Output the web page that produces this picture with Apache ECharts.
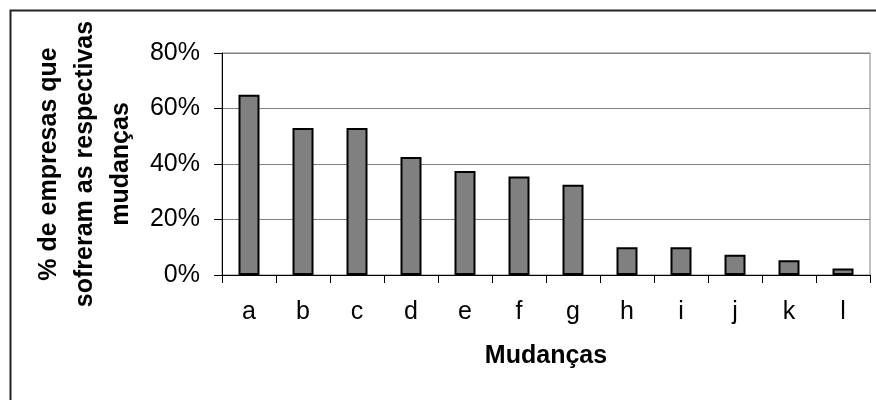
<!DOCTYPE html>
<html>
<head>
<meta charset="utf-8">
<script src="https://cdn.jsdelivr.net/npm/echarts@6/dist/echarts.min.js"></script>
<style>
  html, body { margin: 0; padding: 0; background: #fff; }
  #chart { width: 876px; height: 400px; }
</style>
</head>
<body>
<div id="chart"></div>
<script>
// categorias e valores (% de empresas)
const categorias = ['a', 'b', 'c', 'd', 'e', 'f', 'g', 'h', 'i', 'j', 'k', 'l'];
const valores = [65, 53, 53, 42.5, 37.5, 35.5, 32.5, 10, 10, 7.3, 5.3, 2.3];
const yTicks = [0, 20, 40, 60, 80];

const fonte = 'Liberation Sans, Arial, sans-serif';
let chart = echarts.init(document.getElementById('chart'), null, { renderer: 'canvas' });

const option = {
  animation: false,
  backgroundColor: '#fff',
  // moldura externa (só topo e esquerda visiveis)
  graphic: [{
    type: 'rect',
    shape: { x: 10.5, y: 10.5, width: 1000, height: 600 },
    style: { fill: 'none', stroke: '#222', lineWidth: 2 },
    silent: true
  }],
  grid: {
    left: 222, right: 6, top: 53, bottom: 125,
    show: true, borderColor: '#808080', borderWidth: 1
  },
  xAxis: {
    type: 'category',
    data: categorias,
    name: 'Mudanças',
    nameLocation: 'middle',
    nameGap: 69,
    nameTextStyle: { fontFamily: fonte, fontSize: 25, fontWeight: 'bold', color: '#000' },
    axisLine: { lineStyle: { color: '#000', width: 1 } },
    axisTick: { show: true, length: 8, lineStyle: { color: '#000' } },
    axisLabel: { fontFamily: fonte, fontSize: 25, color: '#000', margin: 25 }
  },
  yAxis: {
    type: 'value',
    min: yTicks[0],
    max: yTicks[yTicks.length - 1],
    interval: 20,
    name: '% de empresas que\nsofreram as respectivas\nmudanças',
    nameLocation: 'middle',
    nameGap: 76,
    nameTextStyle: { fontFamily: fonte, fontSize: 25, fontWeight: 'bold', color: '#000', lineHeight: 36 },
    axisLine: { show: true, lineStyle: { color: '#000', width: 1 } },
    axisTick: { show: true, length: 8, lineStyle: { color: '#000' } },
    axisLabel: { fontFamily: fonte, fontSize: 25, color: '#000', margin: 22, formatter: '{value}%' },
    splitLine: { show: true, lineStyle: { color: '#808080', width: 1 } }
  },
  series: [{
    type: 'bar',
    data: valores,
    barWidth: 21,
    itemStyle: { color: '#808080', borderColor: '#000', borderWidth: 2 }
  }]
};

chart.setOption(option);
</script>
</body>
</html>
